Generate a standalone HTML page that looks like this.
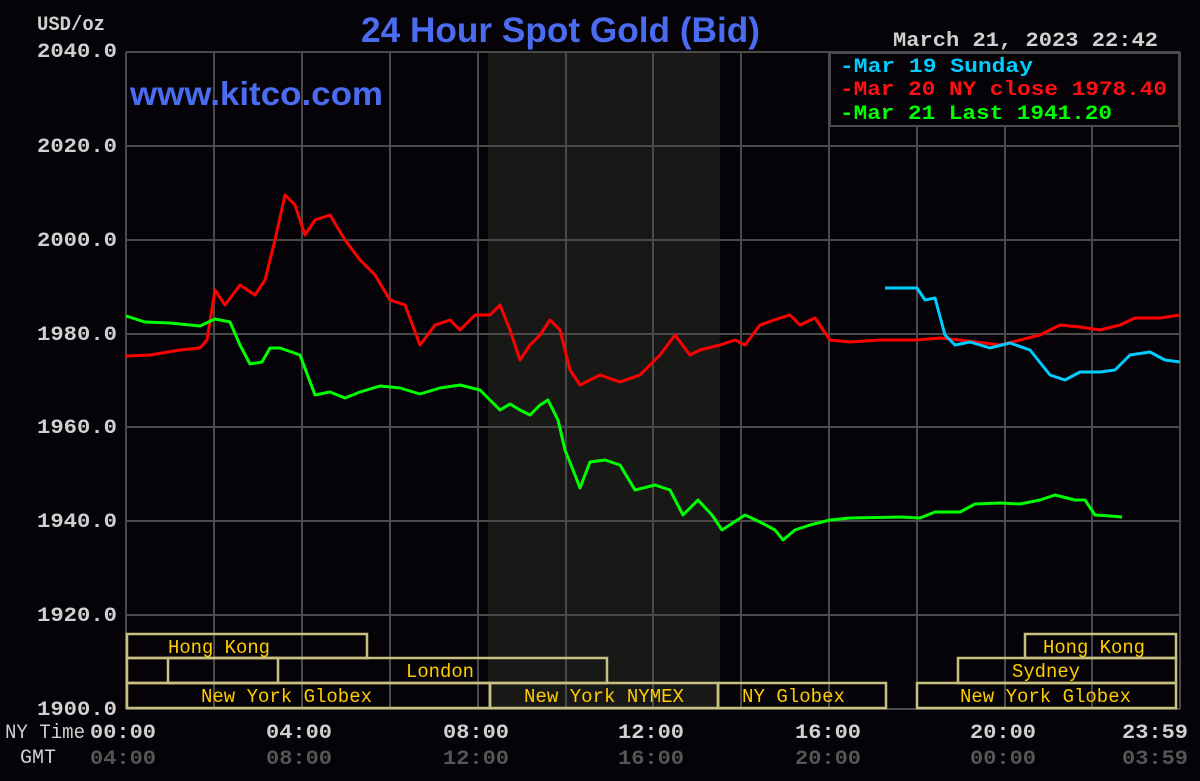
<!DOCTYPE html>
<html><head><meta charset="utf-8"><style>
html,body{margin:0;padding:0;background:#050307;}
svg{display:block}
.m{font-family:"Liberation Mono","DejaVu Sans Mono",monospace;font-weight:bold}
</style></head><body>
<svg width="1200" height="781" xmlns="http://www.w3.org/2000/svg">
<rect width="1200" height="781" fill="#050307"/>
<rect x="488" y="52" width="232" height="657" fill="#181917"/>
<g stroke="#4a4a4a" stroke-width="2">
<line x1="126" y1="52" x2="1180" y2="52"/>
<line x1="126" y1="146" x2="1180" y2="146"/>
<line x1="126" y1="240" x2="1180" y2="240"/>
<line x1="126" y1="334" x2="1180" y2="334"/>
<line x1="126" y1="427" x2="1180" y2="427"/>
<line x1="126" y1="521" x2="1180" y2="521"/>
<line x1="126" y1="615" x2="1180" y2="615"/>
<line x1="126" y1="709" x2="1180" y2="709"/>
<line x1="126" y1="52" x2="126" y2="709"/>
<line x1="214" y1="52" x2="214" y2="709"/>
<line x1="302" y1="52" x2="302" y2="709"/>
<line x1="390" y1="52" x2="390" y2="709"/>
<line x1="478" y1="52" x2="478" y2="709"/>
<line x1="566" y1="52" x2="566" y2="709"/>
<line x1="653" y1="52" x2="653" y2="709"/>
<line x1="741" y1="52" x2="741" y2="709"/>
<line x1="829" y1="52" x2="829" y2="709"/>
<line x1="917" y1="52" x2="917" y2="709"/>
<line x1="1005" y1="52" x2="1005" y2="709"/>
<line x1="1092" y1="52" x2="1092" y2="709"/>
<line x1="1180" y1="52" x2="1180" y2="709"/>
</g>
<rect x="830" y="53" width="349" height="73" fill="#050307" stroke="#4a4a4a" stroke-width="2"/>
<g class="m" font-size="20" fill="#d0d0d0">
<text x="37" y="30" textLength="68" lengthAdjust="spacingAndGlyphs">USD/oz</text>
<text x="37" y="57" textLength="80" lengthAdjust="spacingAndGlyphs">2040.0</text>
<text x="37" y="152" textLength="80" lengthAdjust="spacingAndGlyphs">2020.0</text>
<text x="37" y="246" textLength="80" lengthAdjust="spacingAndGlyphs">2000.0</text>
<text x="37" y="340" textLength="80" lengthAdjust="spacingAndGlyphs">1980.0</text>
<text x="37" y="433" textLength="80" lengthAdjust="spacingAndGlyphs">1960.0</text>
<text x="37" y="527" textLength="80" lengthAdjust="spacingAndGlyphs">1940.0</text>
<text x="37" y="621" textLength="80" lengthAdjust="spacingAndGlyphs">1920.0</text>
<text x="37" y="715" textLength="80" lengthAdjust="spacingAndGlyphs">1900.0</text>
<text x="893" y="46" textLength="265" lengthAdjust="spacingAndGlyphs">March 21, 2023 22:42</text>
</g>
<text x="361" y="42" textLength="399" lengthAdjust="spacingAndGlyphs" font-family="Liberation Sans,sans-serif" font-weight="bold" font-size="35" fill="#4a6cf0">24 Hour Spot Gold (Bid)</text>
<text x="130" y="105" textLength="253" lengthAdjust="spacingAndGlyphs" font-family="Liberation Sans,sans-serif" font-weight="bold" font-size="33" fill="#4a6cf0">www.kitco.com</text>
<g class="m" font-size="20">
<text x="840" y="72" fill="#00ccff" textLength="193" lengthAdjust="spacingAndGlyphs">-Mar 19 Sunday</text>
<text x="840" y="95" fill="#ff1010" textLength="327" lengthAdjust="spacingAndGlyphs">-Mar 20 NY close 1978.40</text>
<text x="840" y="119" fill="#00ff00" textLength="272" lengthAdjust="spacingAndGlyphs">-Mar 21 Last 1941.20</text>
</g>
<g fill="none" stroke-width="3" stroke-linejoin="round">
<polyline stroke="#ff0000" points="126,356 150,355 180,350 200,348 207,340 215,290 225,305 240,285 255,295 265,280 275,240 285,195 295,205 305,235 315,220 330,215 345,240 360,260 375,275 390,300 405,305 420,345 435,325 450,320 460,330 475,315 490,315 500,305 510,330 520,360 530,345 540,335 550,320 560,330 570,370 580,385 600,375 620,382 640,375 660,355 675,335 690,355 700,350 720,345 735,340 745,345 760,325 780,318 790,315 800,325 815,318 830,340 850,342 880,340 917,340 940,338 960,340 1000,345 1020,340 1040,335 1060,325 1080,327 1100,330 1120,325 1135,318 1160,318 1180,315"/>
<polyline stroke="#00ccff" points="885,288 917,288 925,300 935,298 945,335 955,345 970,342 990,348 1010,343 1030,350 1050,375 1065,380 1080,372 1100,372 1115,370 1130,355 1150,352 1165,360 1180,362"/>
<polyline stroke="#00ff00" points="126,316 145,322 170,323 200,326 215,319 230,322 240,345 250,364 262,362 270,348 280,348 300,355 315,395 330,392 345,398 360,392 380,386 400,388 420,394 440,388 460,385 480,390 490,400 500,410 510,404 520,410 530,415 540,405 548,400 558,420 565,450 575,475 580,488 590,462 605,460 620,465 635,490 655,485 670,490 683,515 698,500 712,515 722,530 745,515 760,522 775,530 783,540 795,530 810,525 830,520 850,518 900,517 920,518 935,512 960,512 975,504 1000,503 1020,504 1040,500 1055,495 1075,500 1085,500 1095,515 1110,516 1122,517"/>
</g>
<g fill="none" stroke="#c8c080" stroke-width="2.5">
<rect x="127" y="634" width="240" height="24"/>
<rect x="1025" y="634" width="151" height="24"/>
<rect x="127" y="658" width="480" height="25"/>
<rect x="168" y="658" width="110" height="25"/>
<rect x="958" y="658" width="218" height="25"/>
<rect x="127" y="683" width="363" height="25"/>
<rect x="490" y="683" width="228" height="25"/>
<rect x="718" y="683" width="168" height="25"/>
<rect x="917" y="683" width="259" height="25"/>
</g>
<g font-family="Liberation Mono,monospace" font-size="19" fill="#ffcc00">
<text x="168" y="653" textLength="102" lengthAdjust="spacingAndGlyphs">Hong Kong</text>
<text x="1043" y="653" textLength="102" lengthAdjust="spacingAndGlyphs">Hong Kong</text>
<text x="406" y="677" textLength="68" lengthAdjust="spacingAndGlyphs">London</text>
<text x="1012" y="677" textLength="68" lengthAdjust="spacingAndGlyphs">Sydney</text>
<text x="201" y="702" textLength="171" lengthAdjust="spacingAndGlyphs">New York Globex</text>
<text x="524" y="702" textLength="160" lengthAdjust="spacingAndGlyphs">New York NYMEX</text>
<text x="742" y="702" textLength="103" lengthAdjust="spacingAndGlyphs">NY Globex</text>
<text x="960" y="702" textLength="171" lengthAdjust="spacingAndGlyphs">New York Globex</text>
</g>
<g class="m" font-size="20" fill="#d0d0d0">
<text x="5" y="738" font-weight="normal" textLength="80" lengthAdjust="spacingAndGlyphs">NY Time</text>
<text x="90" y="738" textLength="66" lengthAdjust="spacingAndGlyphs">00:00</text>
<text x="266" y="738" textLength="66" lengthAdjust="spacingAndGlyphs">04:00</text>
<text x="443" y="738" textLength="66" lengthAdjust="spacingAndGlyphs">08:00</text>
<text x="618" y="738" textLength="66" lengthAdjust="spacingAndGlyphs">12:00</text>
<text x="795" y="738" textLength="66" lengthAdjust="spacingAndGlyphs">16:00</text>
<text x="970" y="738" textLength="66" lengthAdjust="spacingAndGlyphs">20:00</text>
<text x="1122" y="738" textLength="66" lengthAdjust="spacingAndGlyphs">23:59</text>
<text x="20" y="763" font-weight="normal" textLength="36" lengthAdjust="spacingAndGlyphs">GMT</text>
</g>
<g class="m" font-size="20" fill="#555">
<text x="90" y="764" textLength="66" lengthAdjust="spacingAndGlyphs">04:00</text>
<text x="266" y="764" textLength="66" lengthAdjust="spacingAndGlyphs">08:00</text>
<text x="443" y="764" textLength="66" lengthAdjust="spacingAndGlyphs">12:00</text>
<text x="618" y="764" textLength="66" lengthAdjust="spacingAndGlyphs">16:00</text>
<text x="795" y="764" textLength="66" lengthAdjust="spacingAndGlyphs">20:00</text>
<text x="970" y="764" textLength="66" lengthAdjust="spacingAndGlyphs">00:00</text>
<text x="1122" y="764" textLength="66" lengthAdjust="spacingAndGlyphs">03:59</text>
</g>
</svg>
</body></html>
